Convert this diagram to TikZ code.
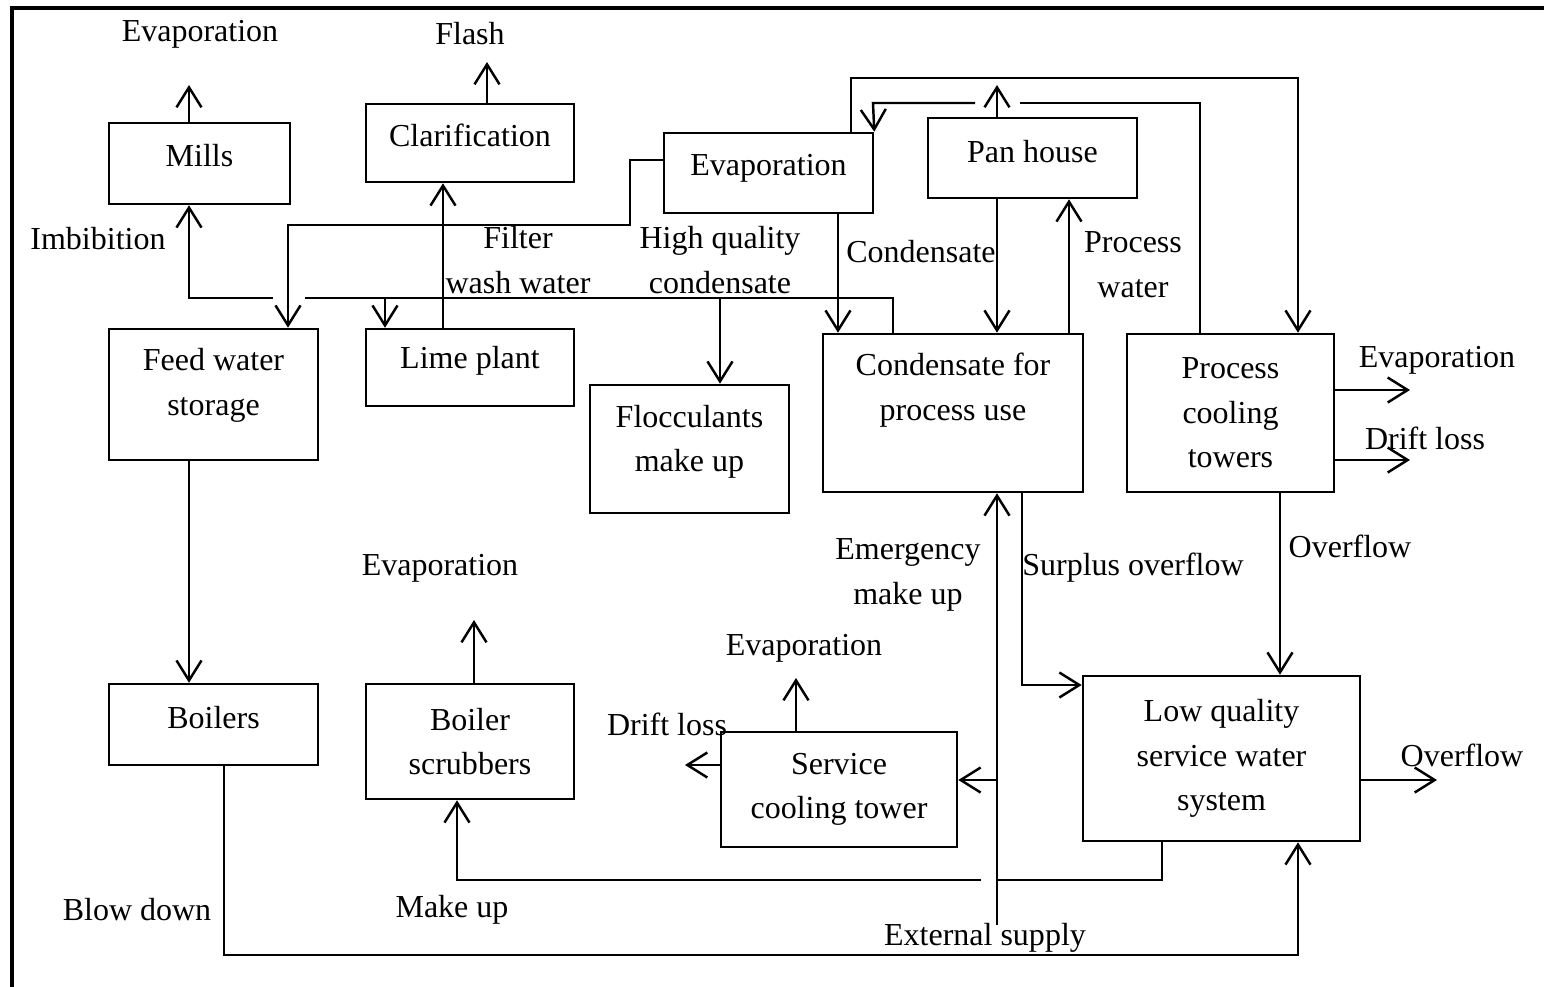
\documentclass[tikz,border=0pt]{standalone}
\usepackage{fontspec}
\setmainfont{Liberation Serif}
\usetikzlibrary{arrows.meta}
\begin{document}
\begin{tikzpicture}[x=0.01cm,y=-0.01cm,line width=0.7pt,
  every node/.style={font=\fontsize{9.1}{12.7}\selectfont},
  box/.style={draw,align=center,inner sep=0pt},
  lbl/.style={align=center,inner sep=0pt},
  arr/.style={-{Straight Barb[length=2mm,width=2.5mm]}}]
  \useasboundingbox (0,0) rectangle (1544,987);
  \draw[line width=0.9pt] (12,987) -- (12,8) -- (1544,8);
  % boxes
  \node[box,minimum width=1.81cm,minimum height=0.81cm,text depth=4.5pt] (mills) at (199.5,163.5) {Mills};
  \node[box,minimum width=2.08cm,minimum height=0.78cm,text depth=4.6pt] (clar) at (470,143) {Clarification};
  \node[box,minimum width=2.09cm,minimum height=0.80cm,text depth=4.8pt] (evap) at (768.5,173) {Evaporation};
  \node[box,minimum width=2.09cm,minimum height=0.80cm,text depth=4pt] (pan) at (1032.5,158) {Pan house};
  \node[box,minimum width=2.09cm,minimum height=1.31cm,text depth=7.2pt] (feed) at (213.5,394.5) {Feed water\\storage};
  \node[box,minimum width=2.08cm,minimum height=0.77cm,text depth=6pt] (lime) at (470,367.5) {Lime plant};
  \node[box,minimum width=1.99cm,minimum height=1.28cm,text depth=6pt] (flocc) at (689.5,449) {Flocculants\\make up};
  \node[box,minimum width=2.60cm,minimum height=1.58cm,text depth=15pt] (cond) at (953,413) {Condensate for\\process use};
  \node[box,minimum width=2.07cm,minimum height=1.58cm] (pct) at (1230.5,413) {Process\\cooling\\towers};
  \node[box,minimum width=2.09cm,minimum height=0.81cm,text depth=4pt] (boil) at (213.5,724.5) {Boilers};
  \node[box,minimum width=2.08cm,minimum height=1.15cm] (scrub) at (470,741.5) {Boiler\\scrubbers};
  \node[box,minimum width=2.36cm,minimum height=1.15cm] (sct) at (839,789.5) {Service\\cooling tower};
  \node[box,minimum width=2.77cm,minimum height=1.65cm] (lq) at (1221.5,758.5) {Low quality\\service water\\system};
  % labels
  \node[lbl] (evMills) at (200,34) {Evaporation};
  \node[lbl] (flash) at (470,34) {Flash};
  \node[lbl] (imb) at (98,239) {Imbibition};
  \node[lbl] (filt) at (518,260) {Filter\\wash water};
  \node[lbl] (hqc) at (720,260) {High quality\\condensate};
  \node[lbl] (condl) at (921,252) {Condensate};
  \node[lbl] (pw) at (1133,265) {Process\\water};
  \node[lbl] (evPct) at (1437,360) {Evaporation};
  \node[lbl] (dlPct) at (1425,438) {Drift loss};
  \node[lbl] (ovPct) at (1350,546) {Overflow};
  \node[lbl] (surp) at (1133,568) {Surplus overflow};
  \node[lbl] (emerg) at (908,575) {Emergency\\make up};
  \node[lbl] (evScrub) at (440,568) {Evaporation};
  \node[lbl] (evSct) at (804,648) {Evaporation};
  \node[lbl] (dlSct) at (667,724) {Drift loss};
  \node[lbl] (ovLq) at (1462,755) {Overflow};
  \node[lbl] (blow) at (137,910) {Blow down};
  \node[lbl] (mkup) at (452,910) {Make up};
  \node[lbl] (ext) at (985,938) {External supply};
  % routing points
  \coordinate (c1) at (189,85);
  \coordinate (c2) at (487,62);
  \coordinate (j1) at (189,298);
  \coordinate (j2) at (893,298);
  \coordinate (g1) at (305,298);
  \coordinate (g2) at (273,298);
  \coordinate (b1) at (385,298);
  \coordinate (b2) at (720,298);
  \coordinate (k1) at (630,160);
  \coordinate (k2) at (288,225);
  \coordinate (l1) at (443,250);
  \coordinate (e1) at (838,250);
  \coordinate (p1) at (997,85);
  \coordinate (p2) at (1069,250);
  \coordinate (q1) at (1200,103);
  \coordinate (q2) at (873,103);
  \coordinate (g3) at (1020,103);
  \coordinate (g4) at (975,103);
  \coordinate (r1) at (851,78);
  \coordinate (r2) at (1298,78);
  \coordinate (s1) at (1410,390);
  \coordinate (s2) at (1410,460);
  \coordinate (t1) at (1280,600);
  \coordinate (u1) at (1022,685);
  \coordinate (v1) at (997,925);
  \coordinate (v2) at (997,780);
  \coordinate (w1) at (1162,880);
  \coordinate (w2) at (457,880);
  \coordinate (w3) at (981,880);
  \coordinate (y1) at (474,620);
  \coordinate (y2) at (796,678);
  \coordinate (y3) at (685,765);
  \coordinate (z1) at (224,955);
  \coordinate (z2) at (1298,955);
  \coordinate (z3) at (1437,780);
  % connectors
  \draw[arr] (c1 |- mills.north) -- (c1);
  \draw[arr] (c2 |- clar.north) -- (c2);
  \draw (j2 |- cond.north) -- (j2) -- (g1);
  \draw[arr] (g2) -- (j1) -- (j1 |- mills.south);
  \draw[arr] (b1) -- (b1 |- lime.north);
  \draw[arr] (b2) -- (b2 |- flocc.north);
  \draw[arr] (k1 -| evap.west) -- (k1) |- (k2) -- (k2 |- feed.north);
  \draw[arr] (l1 |- lime.north) -- (l1 |- clar.south);
  \draw[arr] (e1 |- evap.south) -- (e1 |- cond.north);
  \draw[arr] (p1 |- pan.south) -- (p1 |- cond.north);
  \draw[arr] (p2 |- cond.north) -- (p2 |- pan.south);
  \draw[arr] (p1 |- pan.north) -- (p1);
  \draw (q1 |- pct.north) -- (q1) -- (g3);
  \draw[arr] (g4) -- (q2) -- (evap.north east);
  \draw[arr] (r1 |- evap.north) -- (r1) -- (r2) -- (r2 |- pct.north);
  \draw[arr] (s1 -| pct.east) -- (s1);
  \draw[arr] (s2 -| pct.east) -- (s2);
  \draw[arr] (t1 |- pct.south) -- (t1 |- lq.north);
  \draw[arr] (u1 |- cond.south) -- (u1) -- (u1 -| lq.west);
  \draw[arr] (v1) -- (v1 |- cond.south);
  \draw[arr] (v2) -- (v2 -| sct.east);
  \draw (w1 |- lq.south) -- (w1) -- (w1 -| v1);
  \draw[arr] (w3) -- (w2) -- (w2 |- scrub.south);
  \draw[arr] (y1 |- scrub.north) -- (y1);
  \draw[arr] (y2 |- sct.north) -- (y2);
  \draw[arr] (y3 -| sct.west) -- (y3);
  \draw[arr] (c1 |- feed.south) -- (c1 |- boil.north);
  \draw[arr] (z1 |- boil.south) -- (z1) -- (z2) -- (z2 |- lq.south);
  \draw[arr] (z3 -| lq.east) -- (z3);
\end{tikzpicture}
\end{document}
